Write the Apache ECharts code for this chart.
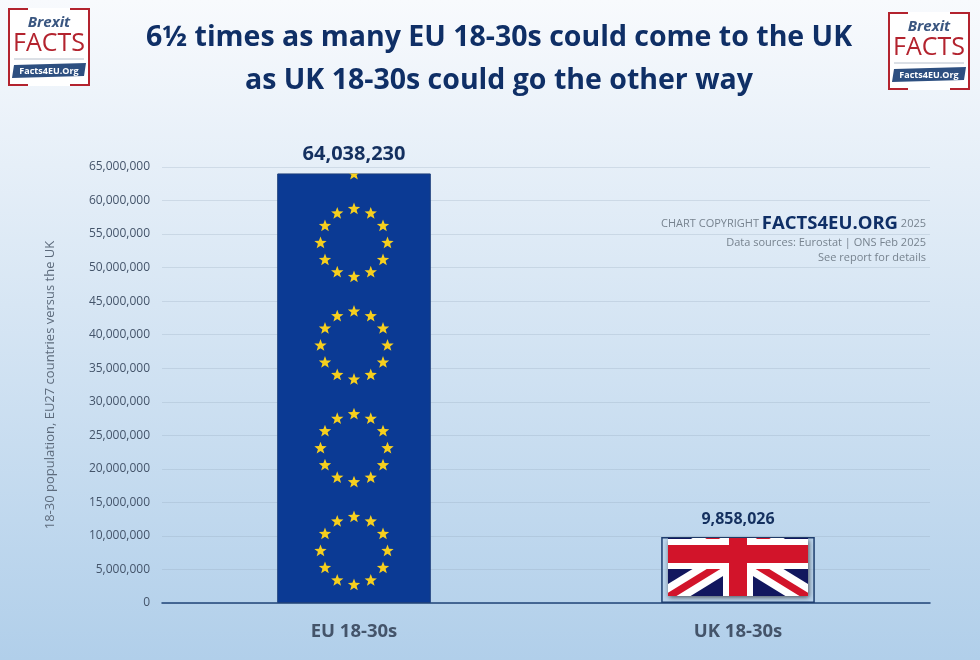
<!DOCTYPE html>
<html lang="en">
<head>
    <meta charset="UTF-8">
    <title>Brexit Facts</title>
    <script src="https://cdn.jsdelivr.net/npm/echarts@6/dist/echarts.min.js"></script>
    <style>
        html, body { margin: 0; padding: 0; }
        #main { width: 980px; height: 660px; }
    </style>
</head>
<body>
    <div id="main"></div>
    <script>
        var categories = ['EU 18-30s', 'UK 18-30s'];
        var populations = [64038230, 9858026];
        var tickMax = 65000000;
        var tickStep = 5000000;

        var font = '"Open Sans", "Noto Sans", sans-serif';
        var navy = '#0f2f66';
        var grey = '#5d6b7c';

        function fmt(v) {
            return Number(v).toLocaleString('en-US');
        }

        function star(cx, cy, r) {
            var pts = [];
            for (var i = 0; i < 10; i++) {
                var rad = i % 2 ? r * 0.42 : r;
                var a = -Math.PI / 2 + i * Math.PI / 5;
                pts.push([cx + rad * Math.cos(a), cy + rad * Math.sin(a)]);
            }
            return { type: 'polygon', shape: { points: pts }, style: { fill: '#f6cf1e' } };
        }

        // EU flag: rings of 12 stars repeating up the bar
        function euBar(cx, top, bottom, halfW) {
            var kids = [];
            for (var c = bottom - 52; c > top - 60; c -= 102.7) {
                for (var i = 0; i < 12; i++) {
                    var a = i * Math.PI / 6;
                    var sy = c - 34 * Math.cos(a);
                    if (sy < top) continue;
                    kids.push(star(cx + 33.5 * Math.sin(a), sy, 6.5));
                }
            }
            return {
                type: 'group',
                children: kids,
                clipPath: { type: 'rect', shape: { x: cx - halfW, y: top, width: halfW * 2, height: bottom - top } }
            };
        }

        // Union flag, the top of it cut off as in the picture
        function ukBar(cx, top, bottom) {
            var left = cx - 70, right = cx + 70, flagTop = top + 1, flagBot = bottom - 7;
            var cy = flagBot - 42, hh = 43, hw = 70;
            function diag(sx, sy, w, color) {
                var x0 = cx + sx * hw, y0 = cy + sy * hh;
                var n = Math.sqrt(hw * hw + hh * hh);
                var ox = -sy * hh / n * w * sx * sx, oy = sx * hw / n * w * sy * sy;
                return {
                    type: 'polygon',
                    shape: { points: [[x0 + ox, y0 + oy], [x0 - ox, y0 - oy], [cx - ox, cy - oy], [cx + ox, cy + oy]] },
                    style: { fill: color }
                };
            }
            function rect(x, y, w, h, color) {
                return { type: 'rect', shape: { x: x, y: y, width: w, height: h }, style: { fill: color } };
            }
            var kids = [rect(left, flagTop - 50, 140, 150, '#12175e')];
            [[-1, 1], [1, 1], [-1, -1], [1, -1]].forEach(function (s) {
                kids.push(diag(s[0], s[1], 11, '#ffffff'));
            });
            [[-1, 1], [1, 1], [-1, -1], [1, -1]].forEach(function (s) {
                kids.push(diag(s[0], s[1], 3.6, '#d2142a'));
            });
            kids.push(rect(left, cy - 15, 140, 30, '#ffffff'));
            kids.push(rect(cx - 15, flagTop - 50, 30, 150, '#ffffff'));
            kids.push(rect(left, cy - 9, 140, 18, '#d2142a'));
            kids.push(rect(cx - 9, flagTop - 50, 18, 150, '#d2142a'));
            return {
                type: 'group',
                children: [
                    {
                        type: 'rect',
                        shape: { x: left, y: flagTop, width: 140, height: flagBot - flagTop },
                        style: { fill: '#555', shadowBlur: 5, shadowColor: 'rgba(30,30,30,0.7)', shadowOffsetX: 1, shadowOffsetY: 2 }
                    },
                    {
                        type: 'group',
                        children: kids,
                        clipPath: { type: 'rect', shape: { x: left, y: flagTop, width: 140, height: flagBot - flagTop } }
                    }
                ]
            };
        }

        function renderFlag(params, api) {
            var idx = api.value(0);
            var base = api.coord([idx, 0]);
            var topPt = api.coord([idx, api.value(1)]);
            var halfW = api.size([1, 0])[0] * 0.2;
            if (params.dataIndex === 0) {
                return euBar(base[0], topPt[1], base[1], halfW);
            }
            return ukBar(base[0], topPt[1], base[1]);
        }

        function logo(x, y) {
            var w = 82, h = 78, red = '#b3232e', blue = '#2d4f80';
            function line(pts) {
                return { type: 'polyline', shape: { points: pts }, style: { stroke: red, lineWidth: 2, fill: null } };
            }
            return {
                type: 'group',
                x: x,
                y: y,
                children: [
                    { type: 'rect', shape: { x: 0, y: 0, width: w, height: h }, style: { fill: '#fff' } },
                    line([[20, 1], [1, 1], [1, h - 1], [20, h - 1]]),
                    line([[w - 20, 1], [w - 1, 1], [w - 1, h - 1], [w - 20, h - 1]]),
                    { type: 'text', style: { x: w / 2, y: 15, text: 'Brexit', align: 'center', verticalAlign: 'middle', fill: '#3a5680', font: 'italic bold 15px ' + font } },
                    { type: 'text', style: { x: w / 2, y: 36, text: 'FACTS', align: 'center', verticalAlign: 'middle', fill: red, font: '500 25px ' + font } },
                    { type: 'polygon', shape: { points: [[6, 57], [w - 4, 55], [w - 6, 68], [4, 70]] }, style: { fill: blue } },
                    { type: 'line', shape: { x1: 6, y1: 51, x2: w - 6, y2: 51 }, style: { stroke: '#b7c0cc', lineWidth: 1 } },
                    { type: 'text', style: { x: w / 2, y: 63, text: 'Facts4EU.Org', align: 'center', verticalAlign: 'middle', fill: '#fff', font: 'bold 9px ' + font } }
                ]
            };
        }

        var myChart = echarts.init(document.getElementById('main'));
        myChart.setOption({
            animation: false,
            backgroundColor: {
                type: 'linear', x: 0, y: 0, x2: 0, y2: 1,
                colorStops: [
                    { offset: 0, color: '#f8fafd' },
                    { offset: 0.25, color: '#e6eff8' },
                    { offset: 1, color: '#b1cfea' }
                ]
            },
            title: {
                text: '6½ times as many EU 18-30s could come to the UK\nas UK 18-30s could go the other way',
                left: 494,
                top: 11,
                textAlign: 'center',
                textStyle: { color: navy, fontFamily: font, fontSize: 28.5, fontWeight: 'bold', lineHeight: 43 }
            },
            grid: { left: 162, right: 50, top: 167, bottom: 57 },
            xAxis: {
                type: 'category',
                data: categories,
                axisTick: { show: false },
                axisLine: { lineStyle: { color: '#1f4478', width: 1.5 } },
                axisLabel: { color: '#44546a', fontFamily: font, fontSize: 18.5, fontWeight: 'bold', margin: 19 }
            },
            yAxis: {
                type: 'value',
                min: 0,
                max: tickMax,
                interval: tickStep,
                name: '18-30 population, EU27 countries versus the UK',
                nameLocation: 'middle',
                nameGap: 105,
                nameTextStyle: { color: grey, fontFamily: font, fontSize: 13 },
                axisLine: { show: false },
                axisTick: { show: false },
                axisLabel: { color: '#44546a', fontFamily: font, fontSize: 12, margin: 12, formatter: fmt },
                splitLine: { lineStyle: { color: 'rgba(140,160,180,0.25)', width: 1 } }
            },
            series: [
                {
                    type: 'bar',
                    barWidth: '40%',
                    data: [
                        {
                            value: populations[0],
                            itemStyle: { color: '#0b3a94', borderColor: '#1d3f7c', borderWidth: 1 },
                            label: { fontSize: 20 }
                        },
                        {
                            value: populations[1],
                            itemStyle: { color: 'rgba(190,215,240,0.5)', borderColor: '#1f3f70', borderWidth: 1.5 },
                            label: { fontSize: 16 }
                        }
                    ],
                    label: {
                        show: true,
                        position: 'top',
                        distance: 9,
                        color: '#14305f',
                        fontFamily: font,
                        fontWeight: 'bold',
                        formatter: function (p) { return fmt(p.value); }
                    }
                },
                {
                    type: 'custom',
                    renderItem: renderFlag,
                    encode: { x: 0, y: 1 },
                    z: 5,
                    silent: true,
                    data: populations.map(function (v, i) { return [i, v]; })
                }
            ],
            graphic: [
                logo(8, 8),
                logo(888, 12),
                {
                    type: 'text',
                    z: 10,
                    style: {
                        x: 926,
                        y: 224,
                        align: 'right',
                        verticalAlign: 'middle',
                        text: '{a|CHART COPYRIGHT }{b|FACTS4EU.ORG}{a| 2025}',
                        rich: {
                            a: { fill: '#77838f', font: '11px ' + font },
                            b: { fill: navy, font: 'bold 18.5px ' + font }
                        }
                    }
                },
                {
                    type: 'text',
                    z: 10,
                    style: {
                        x: 926, y: 243, align: 'right', verticalAlign: 'middle',
                        text: 'Data sources: Eurostat | ONS Feb 2025',
                        fill: '#77838f', font: '11px ' + font
                    }
                },
                {
                    type: 'text',
                    z: 10,
                    style: {
                        x: 926, y: 258, align: 'right', verticalAlign: 'middle',
                        text: 'See report for details',
                        fill: '#77838f', font: '11px ' + font
                    }
                }
            ]
        });
    </script>
</body>
</html>
